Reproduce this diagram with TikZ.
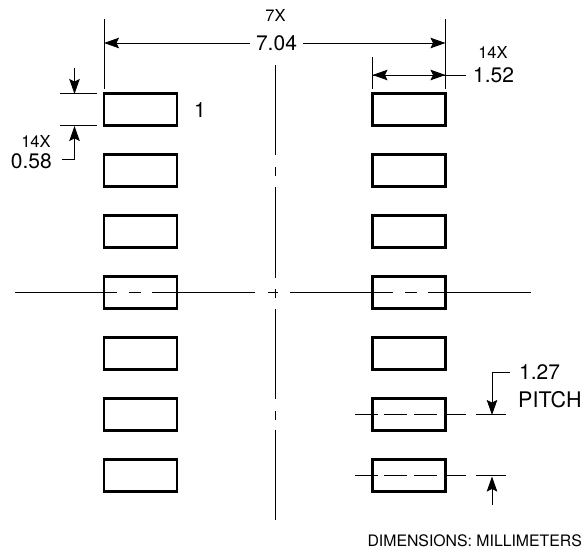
\documentclass[tikz,border=0pt]{standalone}
\usepackage{fontspec}
\setmainfont{TeX Gyre Heros}
\usetikzlibrary{arrows.meta}
\usetikzlibrary{chains}
\tikzstyle{Arrow}=[line width=1pt,-{Stealth[length=15pt,width=10.5pt,inset=2.5pt]}]

\begin{document}
\begin{tikzpicture}[
  x=1pt, y=1pt,
  node distance = 29pt,
  Pad/.style={draw, line width=2.6pt, minimum width=73pt, minimum height=32pt, outer sep=0, on chain},
  Line/.style={line width=1pt},
  Big/.style={font=\fontsize{21}{22}\selectfont, inner sep=0},
  Small/.style={font=\fontsize{16.5}{17}\selectfont, inner sep=0}
]
\useasboundingbox (0,0) rectangle (582,-552);

% land pads
\begin{scope}[start chain = going below]
\node[Pad] (l1) at (140.5,-109.7) {};
\node[Pad] (l2) {};
\node[Pad] (l3) {};
\node[Pad] (l4) {};
\node[Pad] (l5) {};
\node[Pad] (l6) {};
\node[Pad] (l7) {};
\end{scope}
\begin{scope}[start chain = going below]
\node[Pad] (r1) at (409,-109.7) {};
\node[Pad] (r2) {};
\node[Pad] (r3) {};
\node[Pad] (r4) {};
\node[Pad] (r5) {};
\node[Pad] (r6) {};
\node[Pad] (r7) {};
\end{scope}

\node[Big] (pin) at (200,-110) {1};

% center lines
\coordinate (ctop) at (275.5,-65);
\coordinate (cbot) at (275.5,-520);
\draw[Line,dash pattern=on 90pt off 12pt on 9pt off 11pt on 91pt off 11pt on 9pt off 11pt on 90pt off 12pt on 9pt off 10pt on 91pt] (ctop) to (cbot);
\draw[Line,dash pattern=on 102pt off 12pt on 12pt off 11pt on 103pt off 13pt on 10pt off 12pt on 103pt off 12pt on 12pt off 11pt on 103pt] ([xshift=-89pt]l4.west) to ([xshift=85.5pt]r4.east);
\draw[Line,dash pattern=on 23pt off 6pt on 23pt off 7pt on 23pt off 7pt on 22pt off 10pt on 30pt] ([xshift=-17.5pt]r6.west) to ([xshift=60.5pt]r6.east);
\draw[Line,dash pattern=on 23pt off 6pt on 23pt off 7pt on 23pt off 7pt on 22pt off 10pt on 30pt] ([xshift=-17.5pt]r7.west) to ([xshift=60.5pt]r7.east);

% 7.04
\node[Small] (n7x) at (275.5,-15) {7X};
\node[Big,inner xsep=6pt] (d704) at (276.5,-43) {7.04};
\draw[Line] ([yshift=5pt]l1.north west) to +(0,70);
\draw[Line] ([yshift=5pt]r1.north east) to +(0,70);
\draw[Arrow] (d704.west) to (d704.west -| l1.west);
\draw[Arrow] (d704.east) to (d704.east -| r1.east);

% 1.52
\node[Big,anchor=west] (d152) at (473,-75) {1.52};
\node[Small] (n14xa) at (493,-52) {14X};
\draw[Line] ([yshift=5pt]r1.north west) to +(0,32);
\draw[Arrow] (r1.north east |- d152.west) to (r1.north west |- d152.west);
\draw[Arrow] (r1.north west |- d152.west) to (r1.north east |- d152.west);
\draw[Line] (r1.north east |- d152.west) to +(20,0);

% 0.58
\node[Big,anchor=east] (d058) at (52,-161) {0.58};
\node[Small] (n14xb) at (36,-141) {14X};
\draw[Line] ([xshift=-7pt]l1.north west) to +(-37,0);
\draw[Line] ([xshift=-7pt]l1.south west) to +(-37,0);
\draw[Arrow] (74.5,-68) to (74.5,-94);
\draw[Line] (62,-159) to (74.5,-159);
\draw[Arrow] (74.5,-159) to (74.5,-126);

% 1.27
\node[Big,anchor=west] (d127) at (519,-372) {1.27};
\node[font=\fontsize{21.5}{22}\selectfont,inner sep=0,anchor=west] (pitch) at (518,-400) {PITCH};
\draw[Arrow] (510,-372.5) to (492,-372.5) to (492,-415);
\draw[Arrow] (492,-505) to (492,-476.5);

\node[font=\fontsize{15.8}{17}\selectfont,inner sep=0,anchor=east] (units) at (582,-541) {DIMENSIONS: MILLIMETERS};
\end{tikzpicture}
\end{document}
